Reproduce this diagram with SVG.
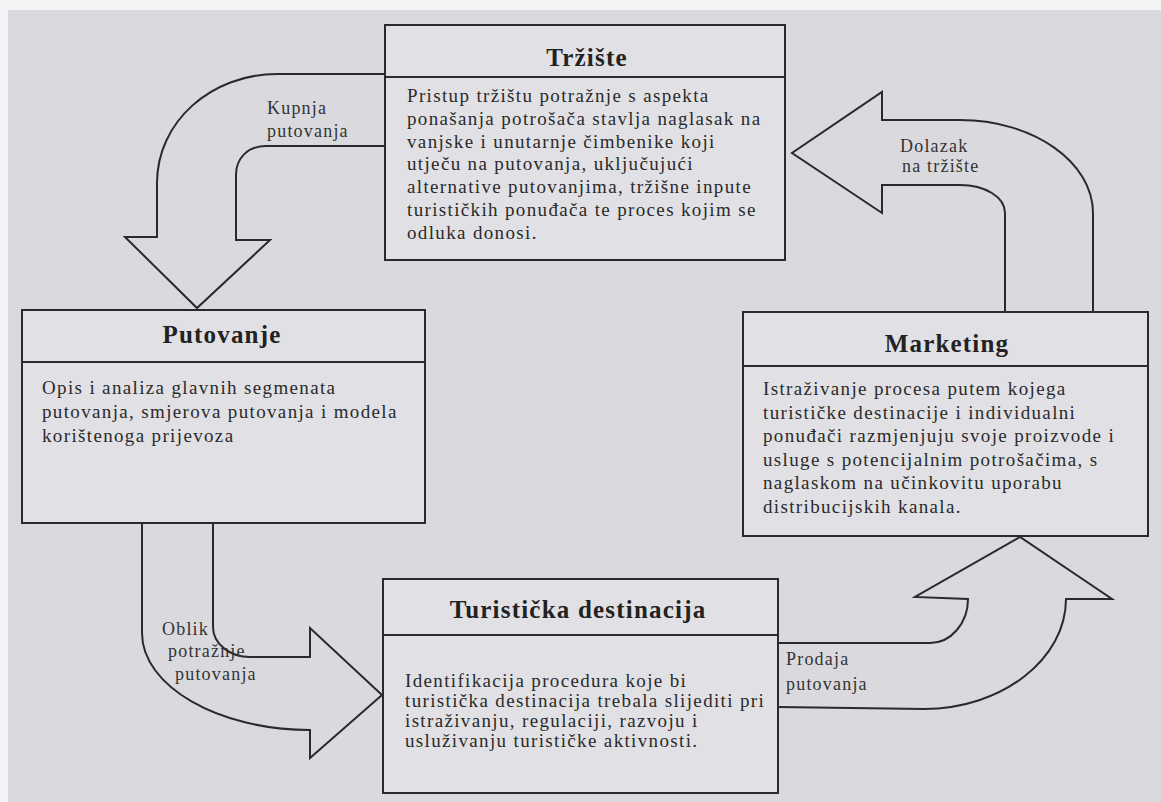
<svg xmlns="http://www.w3.org/2000/svg" width="1161" height="802" viewBox="0 0 1161 802">
  <defs>
    <style>
      .box { fill: #e1e1e5; stroke: #2a2a2a; stroke-width: 2; }
      .div { stroke: #2a2a2a; stroke-width: 2; fill: none; }
      .arrow { fill: none; stroke: #2a2a2a; stroke-width: 2; stroke-linejoin: miter; }
      .title { font-family: "Liberation Serif", "Times New Roman", serif; font-weight: bold; font-size: 25px; letter-spacing: 1.2px; fill: #222; text-anchor: middle; }
      .body { font-family: "Liberation Serif", "Times New Roman", serif; font-size: 19px; letter-spacing: 1.35px; fill: #2a2a2a; }
      .lbl { font-family: "Liberation Serif", "Times New Roman", serif; font-size: 18px; letter-spacing: 1.2px; fill: #333; }
    </style>
  </defs>
  <rect x="0" y="0" width="1161" height="802" fill="#f4f4f6"/>
  <rect x="8" y="10" width="1153" height="792" fill="#dadade"/>

  <g id="connectors">
    <path class="arrow" d="M 385 74 L 277 74 C 211 74 157 122 157 183 L 157 237 L 125 237 L 197 308 L 270 240 L 236 240 L 236 175 C 236 158 248 146 266 146 L 385 146"/>
    <path class="arrow" d="M 1093 312 L 1093 213 C 1093 162 1033 120 960 120 L 882 120 L 882 92 L 792 153 L 882 213 L 882 185 L 960 185 C 985 185 1005 197 1005 213 L 1005 312"/>
    <path class="arrow" d="M 142 523 L 142 633 C 142 686 218 730 310 730 L 310 758 L 382 695 L 310 628 L 310 657 L 250 657 C 230 657 213 644 213 627 L 213 523"/>
    <path class="arrow" d="M 778 643 L 930 643 C 951 643 968 623 968 599 L 915 597 L 1020 537 L 1112 599 L 1066 599 C 1066 659 1002 709 924 709 L 778 707"/>
    <text class="lbl" x="267" y="114">Kupnja</text>
    <text class="lbl" x="267" y="137">putovanja</text>
    <text class="lbl" x="900" y="152">Dolazak</text>
    <text class="lbl" x="902" y="172">na tržište</text>
    <text class="lbl" x="162" y="635">Oblik</text>
    <text class="lbl" x="168" y="657">potražnje</text>
    <text class="lbl" x="175" y="680">putovanja</text>
    <text class="lbl" x="786" y="665">Prodaja</text>
    <text class="lbl" x="786" y="690">putovanja</text>
  </g>

  <g id="node-trziste">
    <rect class="box" x="385" y="25" width="400" height="235"/>
    <line class="div" x1="385" y1="77" x2="785" y2="77"/>
    <text class="title" x="587" y="66">Tržište</text>
    <text class="body" x="407" y="102">Pristup tržištu potražnje s aspekta</text>
    <text class="body" x="407" y="124.8">ponašanja potrošača stavlja naglasak na</text>
    <text class="body" x="407" y="147.6">vanjske i unutarnje čimbenike koji</text>
    <text class="body" x="407" y="170.4">utječu na putovanja, uključujući</text>
    <text class="body" x="407" y="193.2">alternative putovanjima, tržišne inpute</text>
    <text class="body" x="407" y="216">turističkih ponuđača te proces kojim se</text>
    <text class="body" x="407" y="238.8">odluka donosi.</text>
  </g>

  <g id="node-putovanje">
    <rect class="box" x="22" y="310" width="403" height="213"/>
    <line class="div" x1="22" y1="362" x2="425" y2="362"/>
    <text class="title" x="222" y="343">Putovanje</text>
    <text class="body" x="42" y="394">Opis i analiza glavnih segmenata</text>
    <text class="body" x="42" y="418">putovanja, smjerova putovanja i modela</text>
    <text class="body" x="42" y="442">korištenoga prijevoza</text>
  </g>

  <g id="node-marketing">
    <rect class="box" x="743" y="312" width="405" height="224"/>
    <line class="div" x1="743" y1="366" x2="1148" y2="366"/>
    <text class="title" x="947" y="352">Marketing</text>
    <text class="body" x="763" y="395">Istraživanje procesa putem kojega</text>
    <text class="body" x="763" y="418.5">turističke destinacije i individualni</text>
    <text class="body" x="763" y="442">ponuđači razmjenjuju svoje proizvode i</text>
    <text class="body" x="763" y="465.5">usluge s potencijalnim potrošačima, s</text>
    <text class="body" x="763" y="489">naglaskom na učinkovitu  uporabu</text>
    <text class="body" x="763" y="512.5">distribucijskih kanala.</text>
  </g>

  <g id="node-destinacija">
    <rect class="box" x="383" y="579" width="395" height="214"/>
    <line class="div" x1="383" y1="635" x2="778" y2="635"/>
    <text class="title" x="578" y="618">Turistička destinacija</text>
    <text class="body" x="405" y="687">Identifikacija procedura koje bi</text>
    <text class="body" x="405" y="707">turistička destinacija trebala slijediti pri</text>
    <text class="body" x="405" y="727">istraživanju, regulaciji, razvoju i</text>
    <text class="body" x="405" y="747">usluživanju turističke aktivnosti.</text>
  </g>
</svg>
